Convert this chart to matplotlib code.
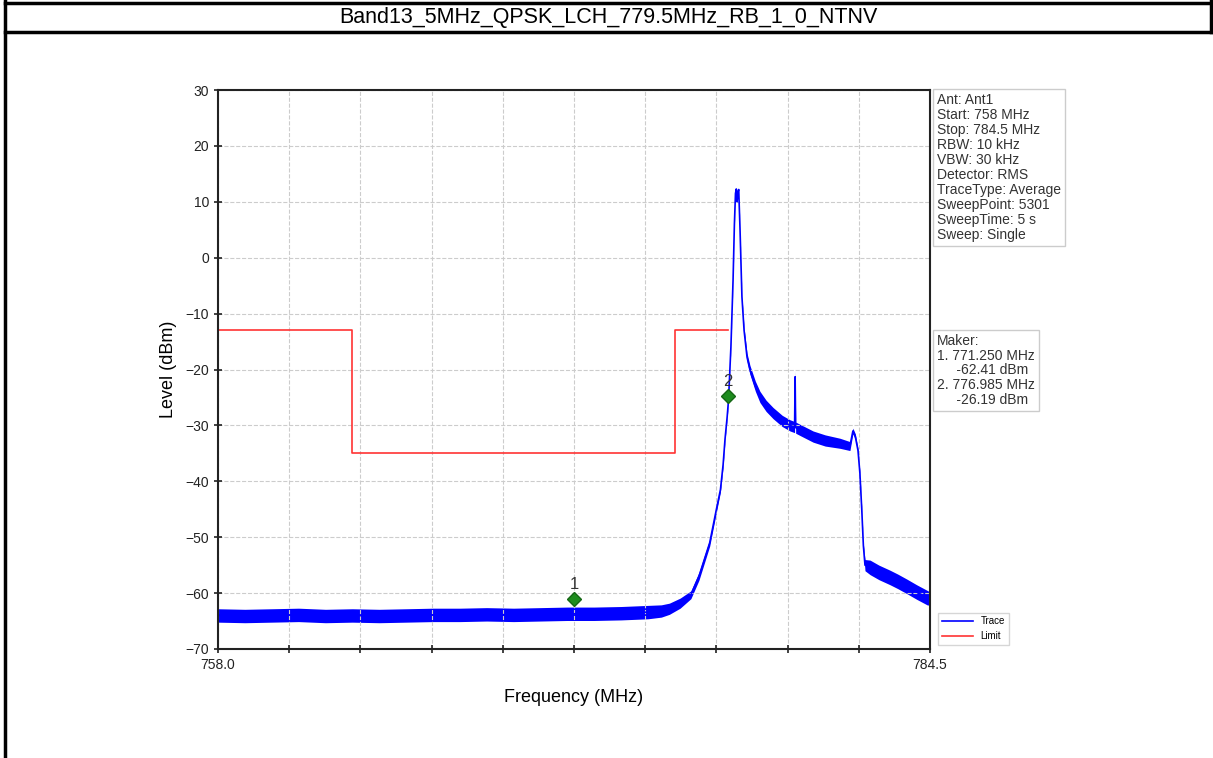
import numpy as np
import matplotlib.pyplot as plt
import matplotlib.transforms as mtransforms
from matplotlib.lines import Line2D

title = "Band13_5MHz_QPSK_LCH_779.5MHz_RB_1_0_NTNV"

# averaged RMS trace (MHz, dBm, half-width of the noise band)
trace_freq = [758.0, 759.0, 760.0, 761.0, 762.0, 763.0, 764.0, 765.0, 766.0, 767.0,
              768.0, 769.0, 770.0, 771.0, 772.0, 773.0, 774.0, 774.5, 774.8, 775.2,
              775.6, 775.9, 776.3, 776.55, 776.7, 776.8, 776.87, 776.95, 777.0, 777.09,
              777.17, 777.22, 777.26, 777.29, 777.32, 777.35, 777.38, 777.43, 777.5, 777.58,
              777.69, 777.8, 778.0, 778.17, 778.4, 778.66, 779.0, 779.29, 779.46, 779.48,
              779.5, 779.7, 780.15, 780.6, 781.15, 781.52, 781.63, 781.72, 781.82, 781.89,
              781.96, 782.02, 782.08, 782.27, 782.6, 783.01, 783.3, 783.64, 784.0, 784.39,
              784.5]
trace_level = [-64.0, -64.1, -64.0, -63.9, -64.1, -64.0, -64.1, -64.0, -63.9, -63.9,
               -63.8, -63.9, -63.8, -63.7, -63.7, -63.6, -63.4, -63.2, -62.8, -61.8,
               -60.3, -57.0, -51.0, -45.0, -41.5, -37.0, -32.5, -28.5, -25.5, -16.0,
               -4.0, 6.0, 11.5, 12.3, 10.0, 11.8, 12.2, 5.0, -7.0, -13.0,
               -17.8, -20.1, -23.0, -24.9, -26.5, -27.8, -29.2, -30.0, -30.3, -21.3,
               -30.4, -30.9, -32.0, -32.7, -33.2, -33.7, -31.0, -32.0, -34.5, -38.5,
               -45.0, -51.5, -55.0, -55.4, -56.3, -57.2, -57.9, -58.8, -59.8, -60.8,
               -61.0]
trace_spread = [1.2, 1.2, 1.2, 1.2, 1.2, 1.2, 1.2, 1.2, 1.2, 1.2,
                1.2, 1.2, 1.2, 1.2, 1.2, 1.2, 1.2, 1.1, 1.0, 0.9,
                0.7, 0.7, 0.6, 0.5, 0.4, 0.4, 0.3, 0.3, 0.3, 0.2,
                0.2, 0.2, 0.2, 0.2, 0.2, 0.2, 0.2, 0.2, 0.3, 0.5,
                0.7, 0.8, 0.9, 1.0, 1.0, 1.0, 1.0, 1.0, 1.0, 1.0,
                1.0, 1.0, 1.0, 1.0, 0.9, 0.8, 0.5, 0.5, 0.4, 0.3,
                0.3, 0.3, 1.0, 1.3, 1.3, 1.3, 1.3, 1.3, 1.3, 1.3,
                1.2]

limit_freq = [758.0, 763.0, 763.0, 775.0, 775.0, 777.0]
limit_level = [-13, -13, -35, -35, -13, -13]

marker_freq = [771.250, 776.985]
marker_level = [-62.41, -26.19]

settings = ["Ant: Ant1", "Start: 758 MHz", "Stop: 784.5 MHz", "RBW: 10 kHz",
            "VBW: 30 kHz", "Detector: RMS", "TraceType: Average",
            "SweepPoint: 5301", "SweepTime: 5 s", "Sweep: Single"]

assert len(trace_freq) == len(trace_level) == len(trace_spread)

plt.rcParams['font.family'] = ['Liberation Sans', 'DejaVu Sans']

fig = plt.figure(figsize=(12.13, 7.58), dpi=100)

# table-like title cell
W, H = 1213.0, 758.0
lines = [((5, 5), (0, 758)), ((5, 1211), (2.5, 2.5)), ((5, 1211), (32, 32)),
         ((1211, 1211), (0, 32))]
for xs, ys in lines:
    fig.add_artist(Line2D([x / W for x in xs], [1 - y / H for y in ys],
                          color='black', lw=2.5))
fig.text(608 / W, 1 - 17 / H, title, ha='center', va='center', fontsize=15.5,
         family=['Liberation Sans Narrow', 'Liberation Sans', 'DejaVu Sans'])

ax = fig.add_axes([218 / W, 1 - 649 / H, 712 / W, 559 / H])

f = np.array(trace_freq)
lv = np.array(trace_level)
sp = np.array(trace_spread)
ax.fill_between(f, lv - sp, lv + sp, color='blue', lw=0)
ax.plot(f, lv, color='blue', lw=1.2, label='Trace')
ax.plot(limit_freq, limit_level, color='#ff3333', lw=1.2, label='Limit')

# the analyzer draws its marker symbols a little above the marked point
lift = mtransforms.offset_copy(ax.transData, fig=fig, x=0, y=8, units='dots')
for i, (mf, ml) in enumerate(zip(marker_freq, marker_level)):
    ax.plot(mf, ml, marker='D', ms=7, color='#1e8c1e', mec='#156615', transform=lift)
    ax.text(mf, ml, str(i + 1), transform=mtransforms.offset_copy(
                ax.transData, fig=fig, x=0, y=15, units='dots'),
            ha='center', va='bottom', fontsize=12, color='#333333')

ax.set_xlim(758, 784.5)
ax.set_ylim(-70, 30)
xt = np.linspace(758, 784.5, 11)
ax.set_xticks(xt)
ax.set_xticklabels(['758.0'] + [''] * 9 + ['784.5'])
ax.set_yticks(range(-70, 31, 10))
ax.grid(True, color='#cccccc', ls='--', lw=0.8)
ax.tick_params(labelsize=10, direction='inout', length=6, width=1.2, colors='#222222')
for s in ax.spines.values():
    s.set_color('#222222')
    s.set_linewidth(1.5)

ax.set_xlabel('Frequency (MHz)', fontsize=13, labelpad=12)
ax.set_ylabel('Level (dBm)', fontsize=13, labelpad=6)

box = dict(boxstyle='square,pad=0.3', fc='white', ec='#cccccc', lw=1)
fig.text(937 / W, 1 - 93 / H, "\n".join(settings), ha='left', va='top',
         fontsize=10, color='#333333', linespacing=1.09, bbox=box)

mk_lines = ["Maker:"]
for i, (mf, ml) in enumerate(zip(marker_freq, marker_level)):
    mk_lines.append("%d. %.3f MHz" % (i + 1, mf))
    mk_lines.append("     %.2f dBm" % ml)
fig.text(937 / W, 1 - 334 / H, "\n".join(mk_lines), ha='left', va='top',
         fontsize=10, color='#333333', linespacing=1.06, bbox=box)

fig.legend(loc='lower left', bbox_to_anchor=(933 / W, 1 - 650 / H), fontsize=7,
           frameon=True, edgecolor='#cccccc', fancybox=False, handlelength=3.2)

fig.savefig('out.png', dpi=100)
